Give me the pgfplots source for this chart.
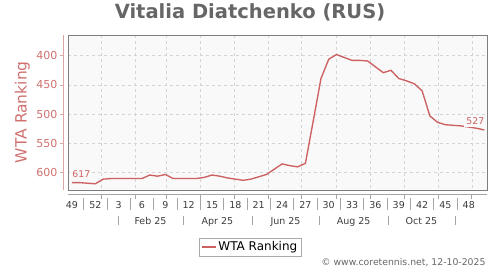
\documentclass[border=0pt]{standalone}
\usepackage{pgfplots}
\pgfplotsset{compat=1.18}
\usepackage{fontspec}
\setmainfont{DejaVu Sans}
\definecolor{linec}{RGB}{205,97,97}
\definecolor{ylab}{RGB}{208,112,112}
\definecolor{yaxc}{RGB}{222,165,165}
\definecolor{bgc}{RGB}{249,249,249}
\definecolor{gridc}{RGB}{212,212,212}
\definecolor{framec}{RGB}{125,125,125}
\definecolor{titlec}{RGB}{102,102,102}
\definecolor{xlab}{RGB}{60,60,60}
\definecolor{sepc}{RGB}{165,165,165}
\pgfplotstableread{
w v
49 617
50 617
51 618
52 619
53 611
54 610
55 610
56 610
57 610
58 610
59 604
60 606
61 603
62 610
63 610
64 610
65 610
66 608
67 604
68 606
69 609
70 611
71 613
72 611
73 607
74 603
75 594
76 585
77 588
78 590
79 584
80 512
81 439
82 406
83 398
84 403
85 408
86 408
87 409
88 419
89 429
90 425
91 439
92 443
93 448
94 460
95 503
96 514
97 518
98 519
99 520
100 522
101 524
102 527
}\ranking
\begin{document}
\begin{tikzpicture}
\useasboundingbox (0,0) rectangle (500pt,270pt);
\node[anchor=base, text=titlec, font=\fontsize{19.5}{22}\selectfont\bfseries] at (250pt,251pt) {Vitalia Diatchenko (RUS)};
\begin{axis}[
  at={(68pt,79.7pt)}, anchor=south west,
  scale only axis, width=419.3pt, height=155.3pt,
  xmin=48.486, xmax=102.38, ymin=364.6, ymax=630.1,
  y dir=reverse, clip=false,
  axis background/.style={fill=bgc},
  axis line style={framec, line width=0.9pt},
  major tick length=0pt,
  ytick={400,450,500,550,600},
  xtick={52.82,57.10,61.17,65.54,69.82,74.23,78.52,83.02,87.39,91.67,96.08,100.38},
  xticklabels={},
  grid=major,
  major grid style={gridc, dashed, line width=0.5pt},
  /pgf/number format/assume math mode=true,
  yticklabel style={text=ylab, font=\fontsize{11}{13}\selectfont, xshift=-7pt},
  extra x ticks={49,52,55,58,61,64,67,70,73,76,79,82,85,88,91,94,97,100},
  extra x tick labels={49,52,3,6,9,12,15,18,21,24,27,30,33,36,39,42,45,48},
  extra x tick style={grid=none, major tick length=0pt,
    xticklabel style={anchor=base, yshift=-18pt, text=xlab, font=\fontsize{9.5}{11}\selectfont}},
  ylabel={WTA Ranking},
  ylabel style={at={(axis description cs:-0.0986,0.503)}, anchor=base, rotate=0, text=ylab, font=\fontsize{15.5}{18}\selectfont},
  legend style={at={(axis description cs:0.4344,-0.366)}, anchor=center, draw={rgb,255:red,170;green,170;blue,170}, fill=white,
    font=\fontsize{12}{14}\selectfont, inner xsep=2pt, inner ysep=1.5pt},
  legend image code/.code={\draw[#1] (0pt,0pt) -- (14pt,0pt);},
]
\addplot[linec, line width=1.35pt] table[x=w, y=v] {\ranking};
\addlegendentry{WTA Ranking}
% data labels
\node[fill=bgc, inner sep=2pt, text=linec, font=\fontsize{9.3}{10}\selectfont] at ([xshift=9.3pt, yshift=8.6pt]axis cs:49,617) {617};
\node[fill=bgc, inner sep=2.5pt, text=linec, font=\fontsize{9.3}{10}\selectfont] at ([xshift=-9pt, yshift=8.6pt]axis cs:102,527) {527};
% y axis line
\draw[yaxc, line width=0.8pt] ([xshift=-4.7pt]axis cs:48.486,364.6) -- ([xshift=-4.7pt]axis cs:48.486,630.1);
\pgfplotsinvokeforeach{400,450,500,550,600}{
  \draw[yaxc, line width=0.8pt] ([xshift=-4.7pt]axis cs:48.486,#1) -- ([xshift=-8pt]axis cs:48.486,#1);
}
% x axis line
\draw[sepc, line width=0.8pt] ([yshift=-4pt]axis cs:48.486,630.1) -- ([yshift=-4pt]axis cs:102.38,630.1);
\pgfplotsinvokeforeach{52.82,57.10,61.17,65.54,69.82,74.23,78.52,83.02,87.39,91.67,96.08,100.38}{
  \draw[sepc, line width=0.8pt] ([yshift=-4pt]axis cs:#1,630.1) -- ([yshift=-9pt]axis cs:#1,630.1);
}
\pgfplotsinvokeforeach{50.5,53.5,56.5,59.5,62.5,65.5,68.5,71.5,74.5,77.5,80.5,83.5,86.5,89.5,92.5,95.5,98.5}{
  \draw[sepc, line width=0.9pt] ([yshift=-8pt]axis cs:#1,630.1) -- ([yshift=-20pt]axis cs:#1,630.1);
}
\pgfplotsinvokeforeach{54.91,63.27,72.14,80.75,89.62,98.23}{
  \draw[sepc, line width=0.9pt] ([yshift=-26pt]axis cs:#1,630.1) -- ([yshift=-35pt]axis cs:#1,630.1);
}
\node[anchor=base, text=xlab, font=\fontsize{9.5}{11}\selectfont] at ([yshift=-34pt]axis cs:59.09,630.1) {Feb 25};
\node[anchor=base, text=xlab, font=\fontsize{9.5}{11}\selectfont] at ([yshift=-34pt]axis cs:67.70,630.1) {Apr 25};
\node[anchor=base, text=xlab, font=\fontsize{9.5}{11}\selectfont] at ([yshift=-34pt]axis cs:76.45,630.1) {Jun 25};
\node[anchor=base, text=xlab, font=\fontsize{9.5}{11}\selectfont] at ([yshift=-34pt]axis cs:85.20,630.1) {Aug 25};
\node[anchor=base, text=xlab, font=\fontsize{9.5}{11}\selectfont] at ([yshift=-34pt]axis cs:93.90,630.1) {Oct 25};
\end{axis}
\node[anchor=base east, text=titlec, font=\fontsize{9.3}{11}\selectfont] at (489pt,4pt) {© www.coretennis.net, 12-10-2025};
\end{tikzpicture}
\end{document}
